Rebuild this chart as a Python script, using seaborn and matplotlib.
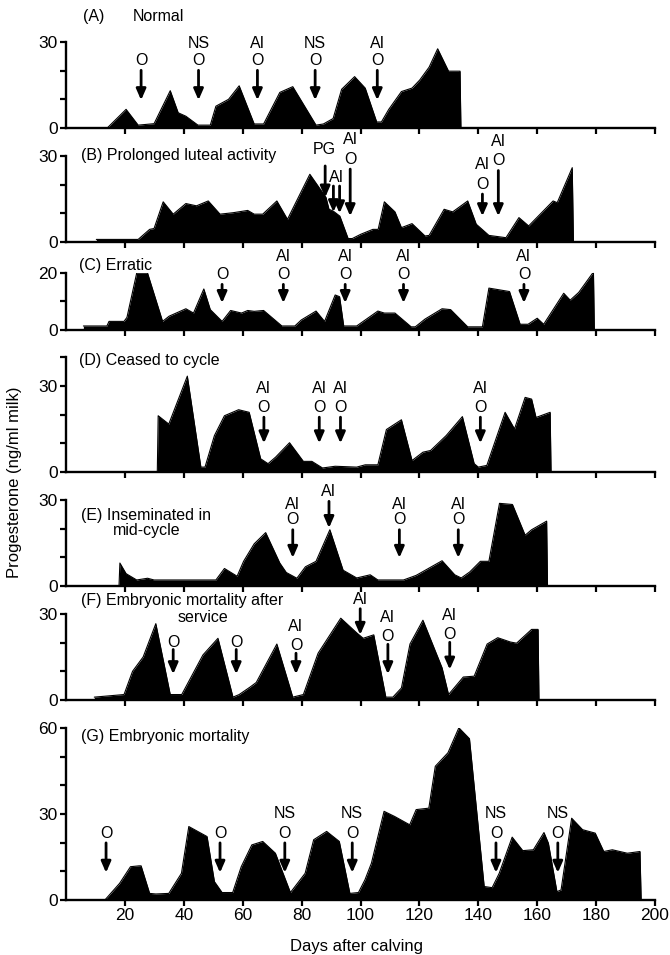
import matplotlib
matplotlib.use('Agg')
import matplotlib.pyplot as plt
import seaborn as sns

# ---------------- data (days after calving, progesterone ng/ml milk) ----------------
A_day = [0, 14, 20.4, 24.5, 29.9, 35.4, 38.1, 40.7, 44.8, 49, 50.9, 55.2, 58.8, 63.9, 67.1,
         72.6, 77, 84.9, 87.4, 90.7, 93.6, 98, 101.6, 105.5, 107.1, 109.6, 113.9, 117.5,
         120.1, 123.3, 126.2, 129.9, 133.8, 134.1]
A_prog = [0, 0, 6.5, 1, 1.5, 13, 5.3, 4.1, 1, 1, 7.6, 10, 14.7, 1.4, 1.4, 12.4, 14.4, 1, 1.4,
          3.3, 13.5, 17.9, 13.9, 2.1, 2.1, 6.5, 12.7, 13.9, 16.7, 21.2, 27.6, 19.8, 19.8, 0]

B_day = [10.3, 24.5, 28.4, 29.9, 33, 36.4, 40.7, 44.3, 48.3, 52.3, 56.7, 61.7, 63.9, 66.8,
         71.6, 75.2, 82.8, 88.3, 89.3, 90.7, 93, 95.8, 97.2, 100.1, 104.2, 106, 108.1, 111.7,
         113.9, 117.5, 121.9, 123.3, 128.4, 131.3, 136.4, 139.3, 143.6, 149.4, 153.8, 157.1,
         165.4, 166.8, 171.9, 172.3]
B_prog = [0.9, 0.9, 4.4, 4.7, 14, 9.7, 13.4, 12.6, 14.3, 9.7, 10.2, 11, 9.7, 9.7, 14.3, 7.9,
          23.6, 15.5, 11.4, 10.8, 9, 1.2, 1.2, 2.7, 4.4, 4.4, 14, 10.5, 5, 6.4, 2.1, 2.3, 11.4,
          10.5, 14.3, 6.2, 2.3, 1.5, 8.5, 5.6, 14.3, 13.7, 25.9, 0]

C_day = [5.9, 13.9, 14.6, 19.7, 20.7, 24, 27.7, 32.8, 35, 40.7, 43.3, 46.8, 49, 53, 55.9,
         59.6, 61.7, 63.9, 67.1, 73.3, 77.7, 79.9, 84.9, 87.8, 91.4, 92.9, 94.3, 98.7, 105.9,
         108.1, 111.7, 117.2, 118.6, 121.9, 127.7, 130.6, 136.4, 141.4, 143.6, 150.6, 154.2,
         156.9, 160, 162.2, 169, 171.2, 174.1, 179.1, 179.4]
C_prog = [1.4, 1.4, 3, 3, 4.4, 19.8, 19.8, 3, 4.8, 7.4, 5.9, 14.3, 7.1, 3, 6.8, 5.9, 6.8,
          6.5, 6.8, 1.4, 1.4, 3.5, 6.6, 3, 12.2, 11.6, 1.4, 1.4, 6.6, 5.9, 5.9, 1.1, 1.1, 3.8,
          7.4, 7.1, 1.1, 1.1, 14.6, 13.4, 2, 2, 4.1, 2, 12.8, 10.4, 13.1, 20.2, 0]

D_day = [31.0, 31.3, 34.9, 41.2, 45.8, 47.2, 50.4, 53.8, 58.6, 62.2, 66.1, 68.6, 71.2, 75.9,
         80.6, 83.5, 87.1, 91.4, 98.7, 101.6, 105.9, 108.8, 113.9, 117.5, 121.2, 123.8,
         129.1, 134.6, 138.6, 140, 142.9, 149.1, 152.3, 155.9, 158.1, 159.6, 164.4, 164.7]
D_prog = [0, 19.6, 16.7, 33.4, 1.7, 1.7, 12.7, 19.6, 21.7, 20.8, 4.6, 2.9, 5.2, 10.2, 3.7,
          3.7, 1.4, 2, 1.7, 2.5, 2.5, 14.8, 18.2, 4, 6.9, 7.5, 12.7, 19.3, 2.9, 1.7, 2.3, 20.8,
          15, 26, 25.4, 19, 20.8, 0]

E_day = [18.0, 18.3, 20.4, 24, 27.7, 29.9, 50.9, 53.8, 58.1, 60.3, 63.9, 67.8, 72.6, 74.8,
         78.4, 81.3, 84.9, 89.6, 94.1, 98.7, 103.3, 105.9, 114.6, 118.9, 127.7, 132, 134.2,
         137.1, 140.7, 143.6, 147.2, 151.6, 155.9, 158.1, 163.2, 163.5]
E_prog = [0, 8, 4.3, 2.1, 2.7, 2.1, 2.1, 6.1, 3.4, 8.6, 14.7, 18.6, 8, 4.7, 2.7, 6.7, 8.6,
          19.6, 5.5, 2.8, 3.9, 2.1, 2.1, 3.7, 8.8, 3.9, 2.8, 4.9, 8.6, 8.6, 28.8, 28.4, 17.7,
          19.6, 22.6, 0]

F_day = [9.6, 19.7, 22.6, 26.2, 30.5, 35.4, 39.3, 46.5, 51.6, 56.7, 58.8, 62.5, 64.6, 71.6,
         77, 80.6, 85.6, 93.3, 98.7, 100.9, 104.5, 108.6, 111, 113.9, 116.8, 121.2, 127.7,
         129.9, 134.9, 138.6, 143, 146.6, 150.9, 153, 158.1, 160.3, 160.6]
F_prog = [1, 1.9, 10, 15, 26.6, 1.9, 1.9, 15.7, 21.5, 1, 1.9, 4.5, 6.1, 19.5, 1, 1.9, 16.3,
          28.5, 23.4, 21.5, 22.7, 1, 1, 4.2, 19.5, 27.8, 11.2, 1.9, 8, 8.3, 19.5, 21.7, 20.2,
          19.8, 24.6, 24.6, 0]

G_day = [13.2, 18.2, 21.9, 24.8, 25.5, 28.4, 30.5, 34.9, 39.2, 41.7, 47.9, 50.4, 53, 56.6,
         59.5, 63.1, 66.8, 71.1, 76.2, 81.2, 84.1, 88.5, 92.8, 96.4, 99.3, 101.5, 103.7, 108,
         111.6, 116.7, 118.9, 123.2, 125.4, 129.7, 133.4, 137, 142, 144.7, 147.1, 151.5,
         155.1, 158.7, 162.3, 163.8, 166.7, 168.1, 171.7, 175.4, 179.7, 182.6, 185.5, 190.6,
         194.9, 195.3]
G_prog = [0, 5.8, 11.6, 11.9, 11.9, 2.3, 2.1, 2.3, 9.3, 25.6, 22.1, 6.4, 2.6, 2.6, 11.6,
          19.2, 20.4, 16.3, 2.6, 9.3, 21, 23.9, 20.4, 2.3, 2.6, 7, 12.8, 30.9, 29.1, 26.2, 31.5,
          32, 46.6, 51.3, 60, 56.2, 4.7, 4.3, 9.3, 21.9, 17.2, 17.5, 23.5, 19.8, 2.9, 3.5, 28.5,
          24.5, 23.3, 16.9, 17.5, 16.3, 16.9, 0]

# events: day and label above the "O" (ovulation)
A_ev_day = [25.5, 45, 65, 84.6, 105.7]
A_ev_lab = ['', 'NS', 'AI', 'NS', 'AI']
B_ev_day = [96.5, 141.4, 146.8]
B_ev_lab = ['AI', 'AI', 'AI']
C_ev_day = [53, 73.8, 94.8, 114.6, 155.5]
C_ev_lab = ['', 'AI', 'AI', 'AI', 'AI']
D_ev_day = [67.2, 86, 93.2, 140.7]
D_ev_lab = ['AI', 'AI', 'AI', 'AI']
E_ev_day = [77, 113.2, 133.2]
E_ev_lab = ['AI', 'AI', 'AI']
F_ev_day = [36.4, 57.8, 78.1, 109.3, 130.3]
F_ev_lab = ['', '', 'AI', 'AI', 'AI']
G_ev_day = [13.6, 52.3, 74.3, 97.2, 146, 167]
G_ev_lab = ['', '', 'NS', 'NS', 'NS', 'NS']

PANEL_TITLES = ['(A)', '(B) Prolonged luteal activity', '(C) Erratic', '(D) Ceased to cycle',
                '(E) Inseminated in', '(F) Embryonic mortality after', '(G) Embryonic mortality']

# ---------------- style ----------------
sns.set_style('ticks')
plt.rcParams['font.family'] = ['Liberation Sans', 'DejaVu Sans']
plt.rcParams.update({'text.color': 'black', 'axes.labelcolor': 'black',
                     'xtick.color': 'black', 'ytick.color': 'black',
                     'axes.edgecolor': 'black'})
FS = 11.5

fig = plt.figure(figsize=(6.7, 9.55), dpi=100)
PX = 2.87  # px per ng/ml


def add_panel(y0, top):
    ax = fig.add_axes([66 / 670, 1 - y0 / 955, 589 / 670, top * PX / 955])
    ax.set_xlim(0, 200)
    ax.set_ylim(0, top)
    sns.despine(ax=ax)
    for s in ('left', 'bottom'):
        ax.spines[s].set_linewidth(1.7)
        ax.spines[s].set_color('black')
    ax.tick_params(direction='out', length=4, width=1.6, labelsize=12.5, pad=2,
                   colors='black')
    ax.set_xticks(range(20, 201, 20))
    ax.set_xticklabels([])
    ax.set_yticks(range(0, top + 1, 10))
    return ax


def draw(ax, day, prog):
    ax.fill_between(day, prog, 0, color='black', lw=0, clip_on=False)
    sns.lineplot(x=day, y=prog, ax=ax, color='black', lw=0.8, estimator=None, sort=False)


def arrow(ax, x, y_start, y_tip):
    ax.annotate('', xy=(x, y_tip), xytext=(x, y_start), annotation_clip=False,
                arrowprops=dict(arrowstyle='-|>,head_length=0.55,head_width=0.24',
                                color='black', lw=2.0, shrinkA=0, shrinkB=0,
                                mutation_scale=12))


def mark(ax, x, top_lab, o_y, tip, gap=6.0, start_off=3.4):
    ax.text(x, o_y, 'O', ha='center', va='center', fontsize=FS, clip_on=False)
    if top_lab:
        ax.text(x, o_y + gap, top_lab, ha='center', va='center', fontsize=FS, clip_on=False)
    arrow(ax, x, o_y - start_off, tip)


def label_y(ax, labels):
    ax.set_yticklabels(labels)


# Panel A
axA = add_panel(128, 30)
draw(axA, A_day, A_prog)
label_y(axA, ['0', '', '', '30'])
for d, l in zip(A_ev_day, A_ev_lab):
    mark(axA, d, l, 23.5, 9.7, gap=5.9)
axA.text(5.9, 38.8, PANEL_TITLES[0], fontsize=FS, va='center', clip_on=False)
axA.text(22.6, 38.8, 'Normal', fontsize=FS, va='center', clip_on=False)

# Panel B
axB = add_panel(242, 30)
draw(axB, B_day, B_prog)
label_y(axB, ['0', '', '', '30'])
axB.text(5.2, 30.3, PANEL_TITLES[1], fontsize=FS, va='center', clip_on=False)
axB.text(87.8, 32.3, 'PG', fontsize=FS, ha='center', va='center', clip_on=False)
arrow(axB, 88.0, 26.5, 15.5)
axB.text(91.9, 22.4, 'AI', fontsize=FS, ha='center', va='center', clip_on=False)
arrow(axB, 90.8, 19.5, 10.4)
arrow(axB, 92.9, 19.5, 10.0)
for d, l, oy in zip(B_ev_day, B_ev_lab, [28.8, 20.1, 28.3]):
    mark(axB, d, l, oy, 9.0, gap=6.8)

# Panel C
axC = add_panel(330, 20)
draw(axC, C_day, C_prog)
label_y(axC, ['0', '', '20'])
axC.text(4.5, 22.6, PANEL_TITLES[2], fontsize=FS, va='center', clip_on=False)
for d, l in zip(C_ev_day, C_ev_lab):
    mark(axC, d, l, 19.3, 9.4, gap=6.3)

# Panel D
axD = add_panel(472, 40)
draw(axD, D_day, D_prog)
label_y(axD, ['0', '', '', '30', ''])
axD.text(4.5, 39.0, PANEL_TITLES[3], fontsize=FS, va='center', clip_on=False)
for d, l in zip(D_ev_day, D_ev_lab):
    mark(axD, d, l, 22.5, 10.0, gap=6.6)

# Panel E
axE = add_panel(586, 30)
draw(axE, E_day, E_prog)
label_y(axE, ['0', '', '', '30'])
axE.text(5.2, 24.7, PANEL_TITLES[4], fontsize=FS, va='center', clip_on=False)
axE.text(16.0, 19.3, 'mid-cycle', fontsize=FS, va='center', clip_on=False)
for d, l in zip(E_ev_day, E_ev_lab):
    mark(axE, d, l, 23.0, 9.8, gap=5.5)
axE.text(89.3, 32.8, 'AI', fontsize=FS, ha='center', va='center', clip_on=False)
arrow(axE, 89.3, 29.5, 20.2)

# Panel F
axF = add_panel(700, 30)
draw(axF, F_day, F_prog)
label_y(axF, ['0', '', '', '30'])
axF.text(5.2, 34.8, PANEL_TITLES[5], fontsize=FS, va='center', clip_on=False)
axF.text(46.5, 28.7, 'service', fontsize=FS, ha='center', va='center', clip_on=False)
for d, l, oy, tp in zip(F_ev_day, F_ev_lab, [20.2, 20.2, 18.9, 22.0, 22.7],
                        [9.0, 9.0, 9.0, 9.0, 10.6]):
    mark(axF, d, l, oy, tp, gap=6.6, start_off=2.6)
axF.text(99.9, 34.9, 'AI', fontsize=FS, ha='center', va='center', clip_on=False)
arrow(axF, 99.9, 31.8, 22.7)

# Panel G
axG = add_panel(900, 60)
draw(axG, G_day, G_prog)
label_y(axG, ['0', '', '', '30', '', '', '60'])
axG.set_xticklabels([str(v) for v in range(20, 201, 20)])
axG.text(5.2, 57.0, PANEL_TITLES[6], fontsize=FS, va='center', clip_on=False)
for d, l in zip(G_ev_day, G_ev_lab):
    mark(axG, d, l, 23.3, 9.5, gap=7.0)

fig.text(15 / 670, 1 - 482 / 955, 'Progesterone (ng/ml milk)', rotation=90,
         ha='center', va='center', fontsize=12)
fig.text(357 / 670, 1 - 946 / 955, 'Days after calving', ha='center', va='center', fontsize=12)

fig.savefig('out.png', dpi=100)
